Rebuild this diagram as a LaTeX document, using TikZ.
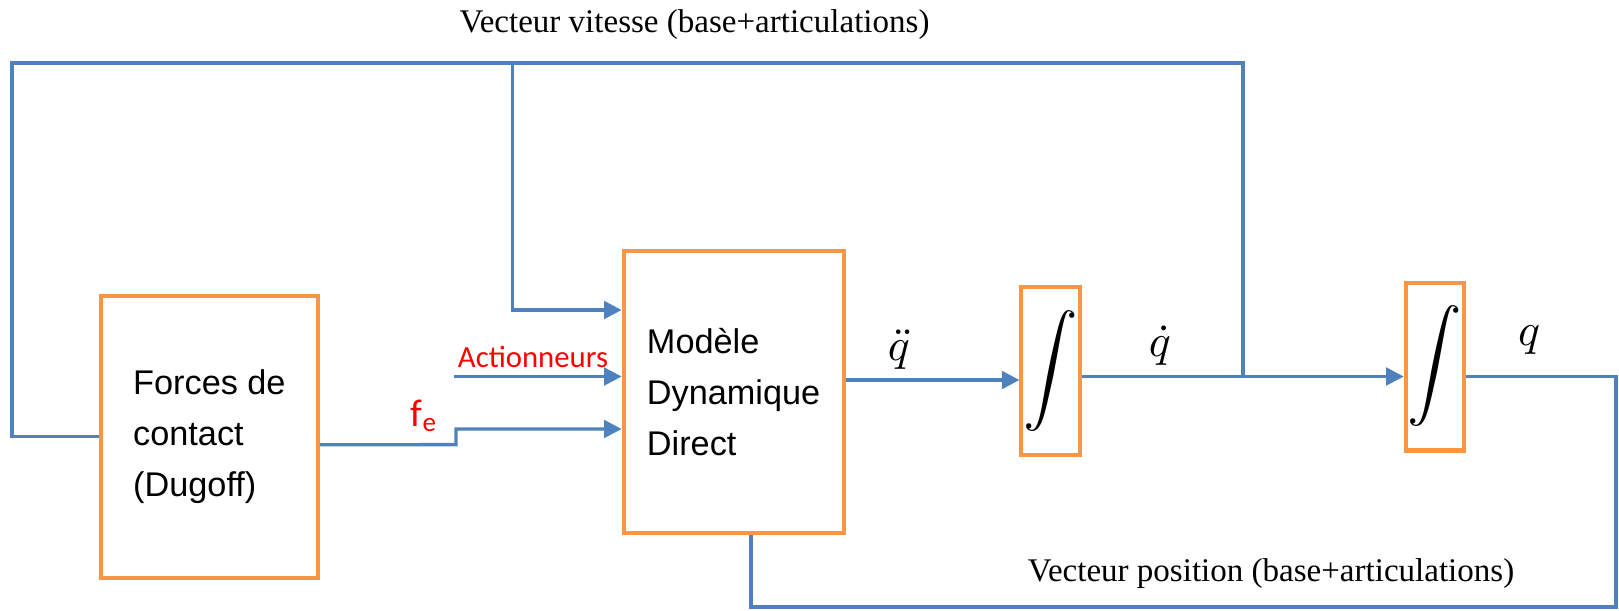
\documentclass[tikz,border=0pt]{standalone}
\usepackage{fontspec}
\setmainfont{Liberation Serif}
\newfontfamily\arial{Liberation Sans}
\newfontfamily\calib{Carlito}
\usetikzlibrary{arrows.meta}
\definecolor{lineblue}{HTML}{4F81BD}
\definecolor{boxorange}{HTML}{F79646}
\definecolor{lblred}{HTML}{FF0000}

\begin{document}
\begin{tikzpicture}[x=0.02cm,y=-0.02cm,
  wire/.style={draw=lineblue,line width=1.9pt},
  arr/.style={wire,-{Triangle[length=10pt,width=10pt]}},
  blk/.style={draw=boxorange,line width=2.3pt,align=left,font=\arial\fontsize{19.5}{29}\selectfont},
  intg/.style={draw=boxorange,line width=2.3pt,minimum width=1.17cm,minimum height=3.36cm,inner sep=0pt},
  ttl/.style={font=\fontsize{18.8}{22}\selectfont}]
  \useasboundingbox (0,0) rectangle (1619,610);
  \node[blk,minimum width=4.34cm,minimum height=5.63cm] (forces) at (209.4,436.8) {Forces de\\contact\\(Dugoff)};
  \node[blk,minimum width=4.40cm,minimum height=5.64cm] (modele) at (733.6,392) {Modèle\\Dynamique\\Direct};
  \node[intg] (int1) at (1050.7,371) {\scalebox{3.1}{$\displaystyle\int$}};
  \node[intg] (int2) at (1435,366.5) {\scalebox{3.1}{$\displaystyle\int$}};
  \node[ttl] (tvit) at (694.5,25) {Vecteur vitesse (base+articulations)};
  \node[ttl] (tpos) at (1271,574) {Vecteur position (base+articulations)};
  \node[text=lblred,font=\calib\fontsize{17.5}{20}\selectfont] (lact) at (533,357) {Actionneurs};
  \node[text=lblred,font=\calib\fontsize{22}{24}\selectfont] (lfe) at (424,416) {f\textsubscript{e}};
  \node[inner sep=0pt] (lqdd) at (899,350) {\scalebox{2.6}{$\ddot{q}$}};
  \node[inner sep=0pt] (lqd) at (1160,346) {\scalebox{2.6}{$\dot{q}$}};
  \node[inner sep=0pt] (lq) at (1529,340) {\scalebox{2.6}{$q$}};
  % points of the wires
  \coordinate (sp) at (1243,376.5);
  \coordinate (tl) at (12,63);
  \coordinate (vb) at (512.6,63);
  \coordinate (act) at (453.5,376.5);
  \coordinate (fk) at (456,444.6);
  \coordinate (br) at (1616,607);
  \coordinate (qdd) at ([yshift=0.24cm]modele.east);
  % wires
  \draw[wire] (sp) |- (tl) |- (forces.west);
  \draw[arr] (vb) |- ([yshift=1.64cm]modele.west);
  \draw[arr] (act) -- (modele.west |- act);
  \draw[arr] ([yshift=-0.16cm]forces.east) -- (fk) |- ([yshift=-0.74cm]modele.west);
  \draw[arr] (qdd) -- (int1.west |- qdd);
  \draw[wire] (int1.east |- sp) -- (sp);
  \draw[arr] (sp) -- (int2.west |- sp);
  \draw[wire] (int2.east |- sp) -| (br) -| ([xshift=0.35cm]modele.south);
\end{tikzpicture}
\end{document}
